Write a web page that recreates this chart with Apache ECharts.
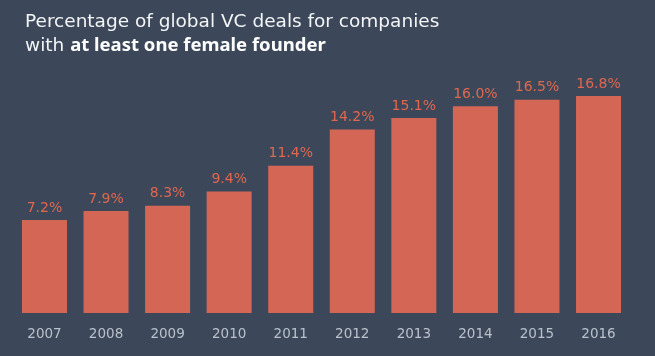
<!DOCTYPE html>
<html><head><meta charset="utf-8">
<script src="https://cdn.jsdelivr.net/npm/echarts@6/dist/echarts.min.js"></script>
<style>html,body{margin:0;padding:0;background:#3c4859;}#c{width:655px;height:356px;}</style>
</head><body><div id="c"></div>
<script>
var years = ['2007','2008','2009','2010','2011','2012','2013','2014','2015','2016'];
var shares = [7.2, 7.9, 8.3, 9.4, 11.4, 14.2, 15.1, 16.0, 16.5, 16.8];
var chart = echarts.init(document.getElementById('c'), null, {renderer:'canvas'});
chart.setOption({
  backgroundColor: '#3c4859',
  animation: false,
  title: {
    left: 20, top: 5,
    text: 'Percentage of global VC deals for companies\nwith {b|at least one female founder}',
    textStyle: {
      color: '#f2f4f6', fontSize: 18.5, fontWeight: 'normal', fontFamily: 'DejaVu Sans', lineHeight: 24,
      rich: { b: { color: '#ffffff', fontSize: 18.5, fontWeight: 'bold', fontFamily: 'Noto Sans', lineHeight: 24 } }
    }
  },
  grid: { left: 13.7, right: 25.7, top: 54.6, bottom: 43 },
  xAxis: {
    type: 'category', data: years,
    axisLine: { show: false }, axisTick: { show: false },
    axisLabel: { color: '#b9c1cc', fontSize: 13.5, fontFamily: 'DejaVu Sans', margin: 14 }
  },
  yAxis: { type: 'value', min: 0, max: 20, show: false, splitLine: { show: false } },
  series: [{
    type: 'bar', data: shares, barWidth: 45,
    itemStyle: { color: '#d46656' },
    label: { show: true, position: 'top', distance: 5, color: '#e0674f', fontSize: 14, fontFamily: 'DejaVu Sans',
      formatter: function(p){ return p.value.toFixed(1) + '%'; } }
  }]
});
</script></body></html>
